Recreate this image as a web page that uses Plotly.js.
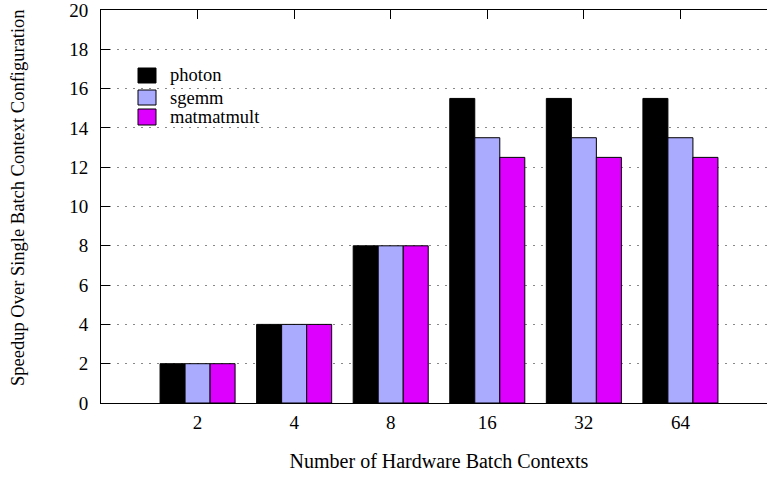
<!DOCTYPE html>
<html>
<head>
<meta charset="utf-8">
<script src="https://cdn.plot.ly/plotly-3.0.1.min.js"></script>
<style>
html, body { margin: 0; padding: 0; overflow: hidden; background: #fff; }
#chart { width: 780px; height: 479px; }
</style>
</head>
<body>
<div id="chart"></div>
<script>
// Data
const categories = ["2", "4", "8", "16", "32", "64"];
const seriesNames = ["photon", "sgemm", "matmatmult"];
const photon = [2, 4, 8, 15.5, 15.5, 15.5];
const sgemm = [2, 4, 8, 13.5, 13.5, 13.5];
const matmatmult = [2, 4, 8, 12.5, 12.5, 12.5];
const yTicks = [0, 2, 4, 6, 8, 10, 12, 14, 16, 18, 20];

const colors = ["#000000", "#aaaaff", "#dd00ff"];
const seriesValues = [photon, sgemm, matmatmult];
const xIdx = categories.map((c, i) => i);

const FONT = "Liberation Serif";

const traces = seriesValues.map((vals, k) => ({
  type: "bar",
  name: seriesNames[k],
  x: xIdx,
  y: vals,
  marker: { color: colors[k], line: { color: "#000", width: 1 } },
  hoverinfo: "skip",
  showlegend: false
}));

// Manual legend (box + label), placed in pixel terms relative to the plot area
const plotL = 101, plotW = 676, plotT = 10, plotH = 393;
const px2x = p => (p - plotL) / plotW;
const px2y = p => 1 - (p - plotT) / plotH;
const legendRows = [[68, 83], [90, 105], [109, 125]];
const shapes = [];
const annotations = [];
seriesNames.forEach((n, k) => {
  const [t, b] = legendRows[k];
  shapes.push({
    type: "rect", xref: "paper", yref: "paper",
    x0: px2x(138), x1: px2x(156), y0: px2y(b), y1: px2y(t),
    fillcolor: colors[k], line: { color: "#000", width: 1 }
  });
  annotations.push({
    xref: "paper", yref: "paper", x: px2x(168), y: px2y((t + b) / 2),
    xanchor: "left", yanchor: "middle", showarrow: false,
    text: n, font: { family: FONT, size: 18.5, color: "#000" }
  });
});
annotations.push({
  xref: "paper", yref: "paper", x: px2x(18), y: px2y(198),
  xanchor: "center", yanchor: "middle", showarrow: false, textangle: -90,
  text: "Speedup Over Single Batch Context Configuration",
  font: { family: FONT, size: 18.5, color: "#000" }
});

const layout = {
  width: 780,
  height: 479,
  margin: { l: 101, r: 3, t: 10, b: 76 },
  paper_bgcolor: "#fff",
  plot_bgcolor: "#fff",
  font: { family: FONT, size: 19, color: "#000" },
  barmode: "group",
  bargap: 0.223,
  bargroupgap: 0,
  showlegend: false,
  shapes: shapes,
  annotations: annotations,
  xaxis: {
    range: [-1, 6],
    tickmode: "array",
    tickvals: xIdx,
    ticktext: categories,
    ticks: "inside",
    ticklen: 9,
    tickcolor: "#000",
    showline: true,
    linecolor: "#000",
    linewidth: 1,
    mirror: "ticks",
    showgrid: false,
    zeroline: false,
    layer: "below traces",
    ticklabelstandoff: 2,
    tickfont: { family: FONT, size: 19, color: "#000" },
    title: { text: "Number of Hardware Batch Contexts", font: { family: FONT, size: 20, color: "#000" }, standoff: 22 }
  },
  yaxis: {
    range: [0, 20],
    tickmode: "array",
    tickvals: yTicks,
    ticktext: yTicks.map(String),
    ticks: "inside",
    ticklen: 9,
    tickcolor: "#000",
    showline: true,
    linecolor: "#000",
    linewidth: 1,
    mirror: "ticks",
    showgrid: true,
    gridcolor: "#888",
    gridwidth: 1,
    griddash: "2px,6px",
    zeroline: false,
    layer: "below traces",
    ticklabelstandoff: 8,
    ticklabeloverflow: "allow",
    tickfont: { family: FONT, size: 19, color: "#000" }
  }
};

Plotly.newPlot("chart", traces, layout, { displayModeBar: false, staticPlot: true });
</script>
</body>
</html>
